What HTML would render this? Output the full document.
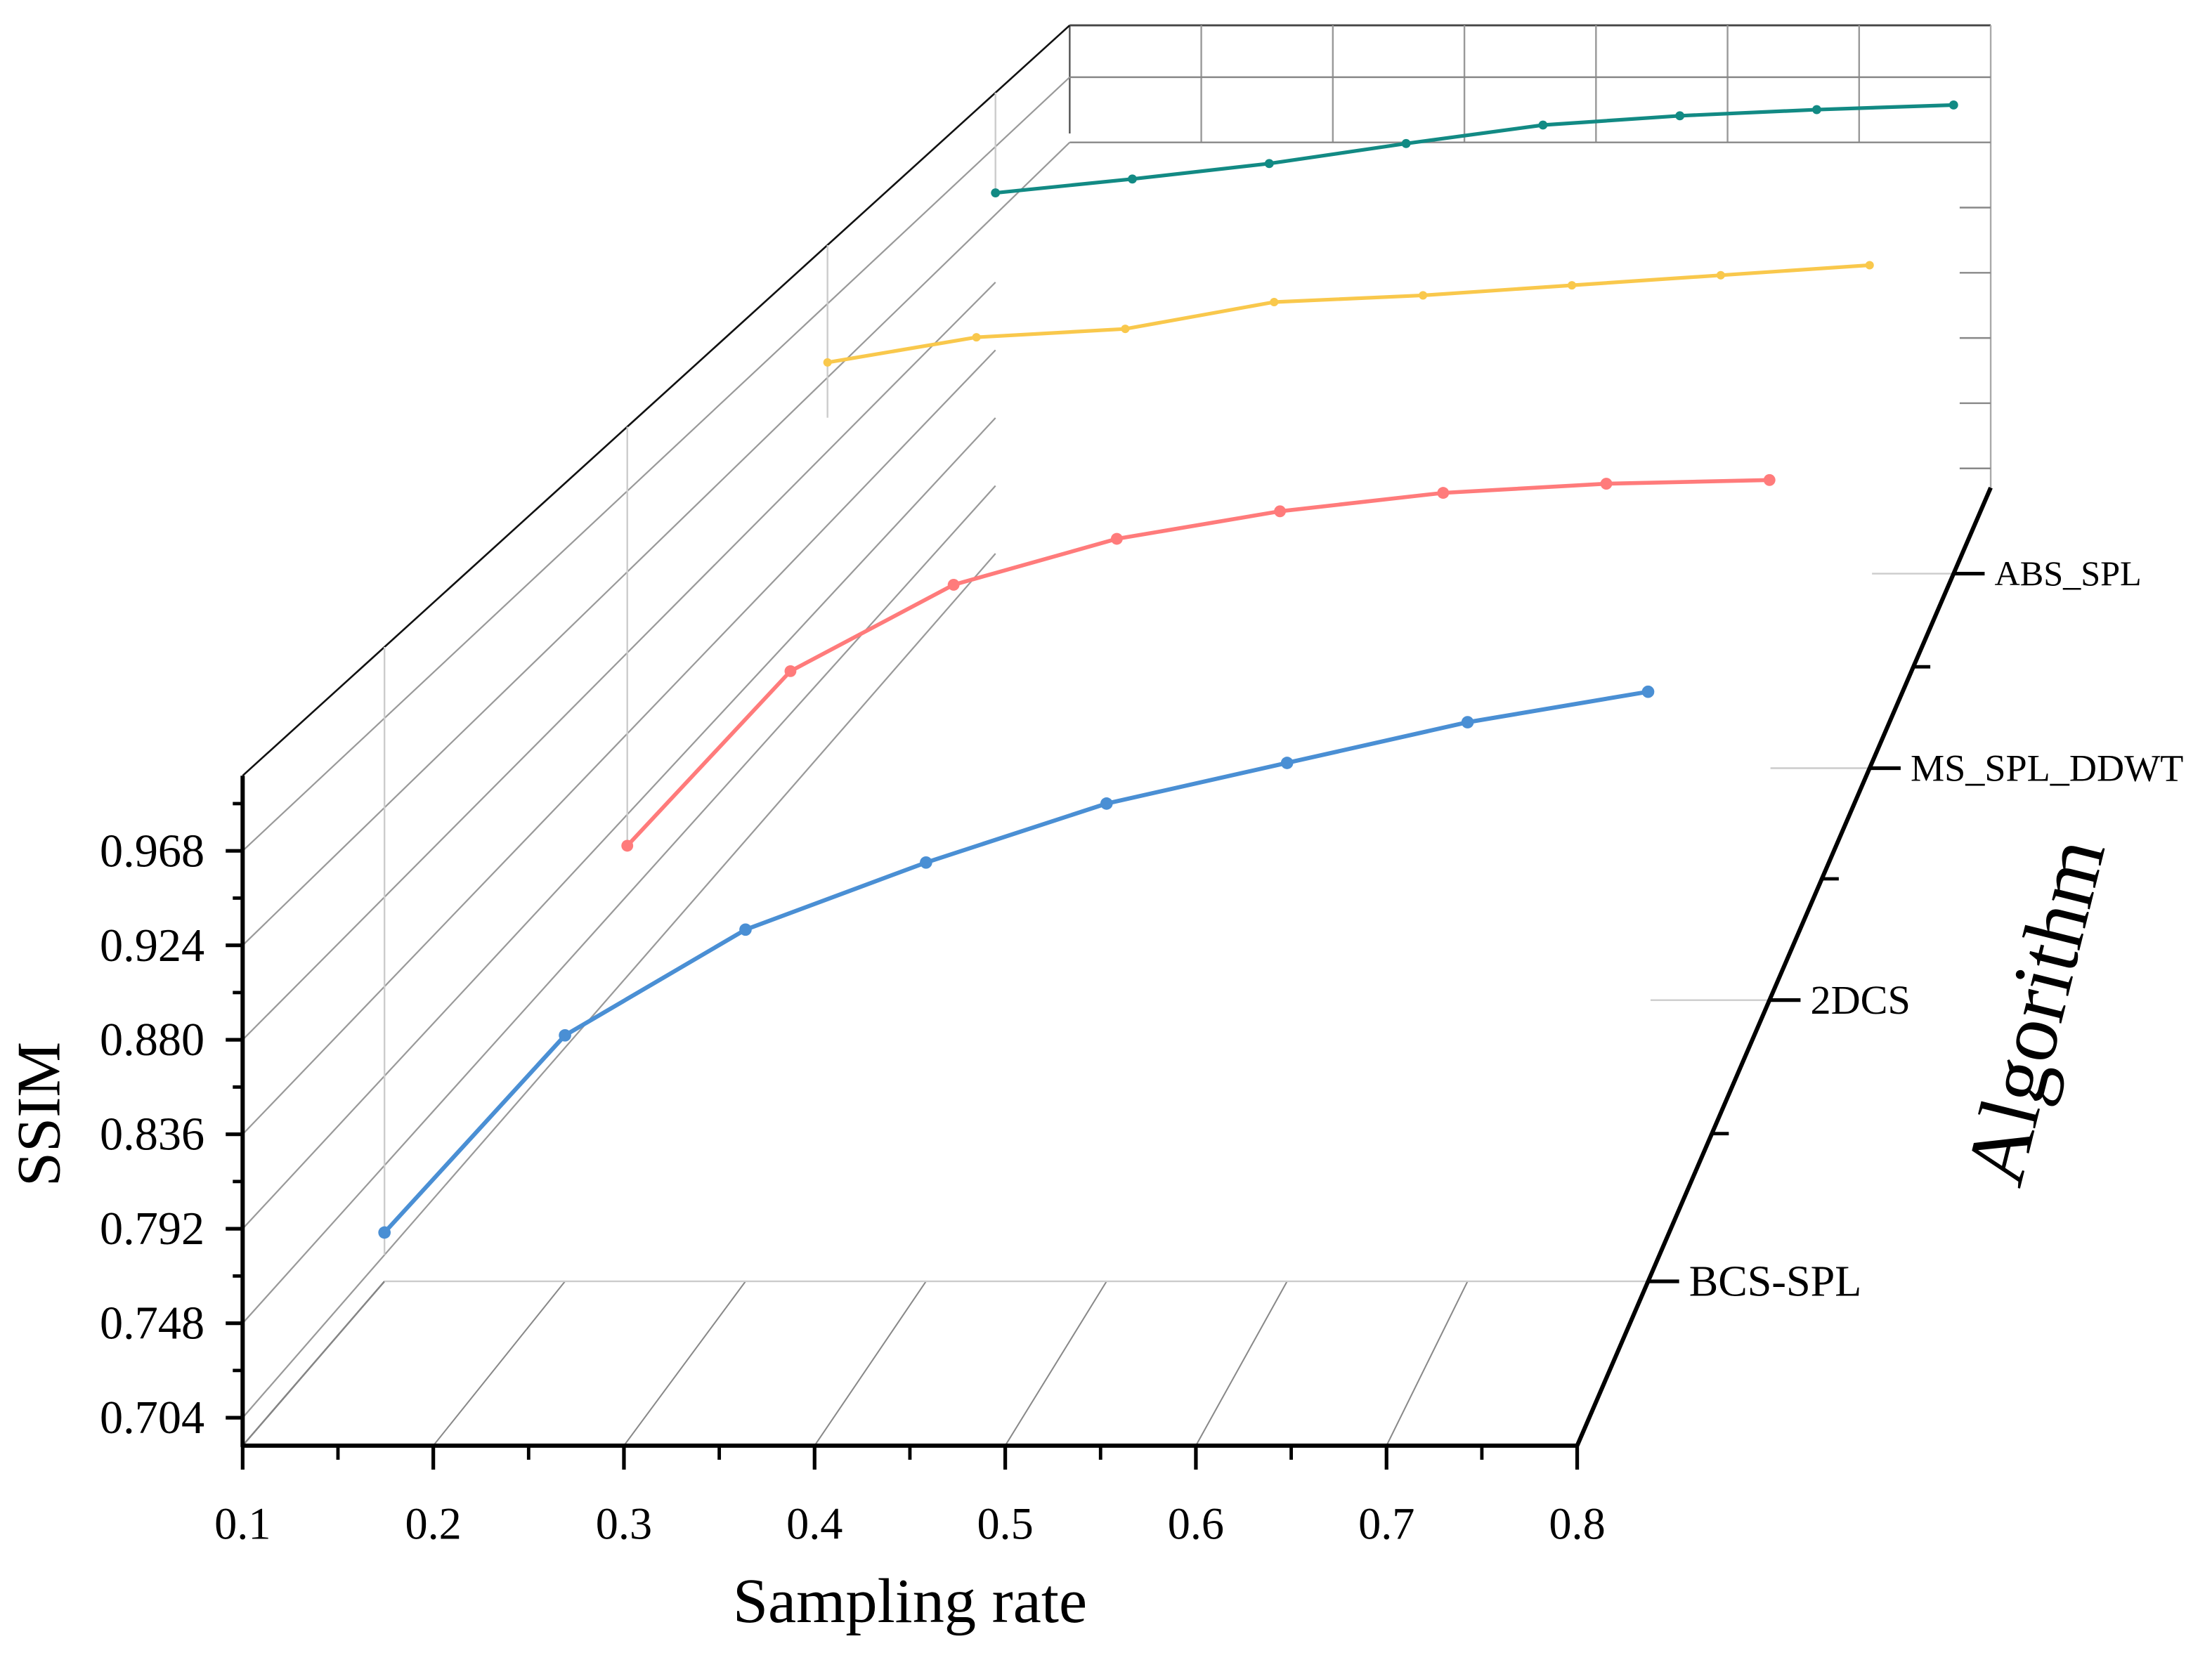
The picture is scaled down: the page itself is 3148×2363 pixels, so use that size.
<!DOCTYPE html>
<html><head><meta charset="utf-8"><style>
html,body{margin:0;padding:0;background:#fff;}
svg{display:block;}
text{font-family:"Liberation Serif",serif;fill:#000;}
</style></head><body>
<svg id="chart" width="3148" height="2363" viewBox="0 0 1568 1177" xmlns="http://www.w3.org/2000/svg">
<g id="grid"></g>
<g id="series"></g>
<g id="axes"></g>
</svg>
<script>
const categories = ["BCS-SPL", "2DCS", "MS_SPL_DDWT", "ABS_SPL"];
const samplingRates = [0.1, 0.2, 0.3, 0.4, 0.5, 0.6, 0.7, 0.8];
const bcsSpl = [0.715, 0.812, 0.864, 0.897, 0.926, 0.946, 0.966, 0.981];
const twoDcs = [0.775, 0.870, 0.917, 0.942, 0.957, 0.967, 0.972, 0.974];
const msSplDdwt = [0.933, 0.948, 0.953, 0.969, 0.973, 0.979, 0.985, 0.991];
const absSpl = [0.938, 0.947, 0.957, 0.970, 0.982, 0.988, 0.992, 0.995];
const yTicks = [0.704, 0.748, 0.792, 0.836, 0.880, 0.924, 0.968];
const yTickLabels = ["0.704", "0.748", "0.792", "0.836", "0.880", "0.924", "0.968"];
const xTicks = [0.1, 0.2, 0.3, 0.4, 0.5, 0.6, 0.7, 0.8];
const xTickLabels = ["0.1", "0.2", "0.3", "0.4", "0.5", "0.6", "0.7", "0.8"];

const NS = "http://www.w3.org/2000/svg";
const VX = 2064, VY = -1167, K = 0.449;
const X0 = 172, X1 = 1118, ZMIN = 0.691, ZMAX = 1.003, YB = 1025, YT = 550;
function sx(x){ return X0 + (x - 0.1) / 0.7 * (X1 - X0); }
function sy(z){ return YB - (z - ZMIN) / (ZMAX - ZMIN) * (YB - YT); }
function scl(d){ return 1 / (1 + K * d); }
function P(x, z, d){ const s = scl(d); return [VX + s * (sx(x) - VX), VY + s * (sy(z) - VY)]; }
function catDepth(i){ return (2 * i + 1) / 8; }

function mk(tag, attrs, parent){
  const e = document.createElementNS(NS, tag);
  for (const k in attrs) e.setAttribute(k, attrs[k]);
  parent.appendChild(e);
  return e;
}
const grid = document.getElementById('grid');
const ser = document.getElementById('series');
const axes = document.getElementById('axes');
function line(p, q, stroke, w, parent, name){
  const l = mk('line', {x1:p[0], y1:p[1], x2:q[0], y2:q[1], stroke:stroke, 'stroke-width':w}, parent);
  
  
  return l;
}

// back wall
line(P(0.1, ZMAX, 1), P(0.8, ZMAX, 1), '#444', 1.4, grid, 'back-wall-top');
line(P(0.8, ZMAX, 1), P(0.8, ZMIN, 1), '#aaa', 1.2, grid, 'back-wall-right');
line(P(0.1, ZMAX, 1), P(0.1, 0.93, 1), '#555', 1.2, grid, 'back-wall-left');
xTicks.forEach(x => {
  if (x > 0.1 && x < 0.8) line(P(x, ZMAX, 1), P(x, 0.924, 1), '#999', 1.2, grid, 'back-wall-x-grid');
});
yTicks.forEach(z => {
  if (z >= 0.92) line(P(0.1, z, 1), P(0.8, z, 1), '#888', 1.2, grid, 'back-wall-z-grid');
  else { const p = P(0.8, z, 1); line([p[0] - 22, p[1]], p, '#888', 1.2, grid, 'back-wall-z-stub'); }
});
// left wall
line(P(0.1, ZMAX, 0), P(0.1, ZMAX, 1), '#111', 1.3, grid, 'left-wall-top-edge');
yTicks.forEach(z => line(P(0.1, z, 0), P(0.1, z, z >= 0.92 ? 1 : 7/8), '#999', 1.1, grid, 'left-wall-z-grid'));
line(P(0.1, ZMIN, 0), P(0.1, ZMIN, catDepth(0)), '#222', 1.1, grid, 'left-wall-bottom-edge');
const wallBottoms = [0.704, 0.775, 0.90, 0.94];
categories.forEach((c, i) => {
  line(P(0.1, ZMAX, catDepth(i)), P(0.1, wallBottoms[i], catDepth(i)), '#ccc', 1.2, grid, 'left-wall-depth-grid');
});
// floor
xTicks.forEach(x => line(P(x, ZMIN, 0), P(x, ZMIN, catDepth(0)), '#888', 1, grid, 'floor-x-grid'));
line(P(0.1, ZMIN, catDepth(0)), P(0.8, ZMIN, catDepth(0)), '#ccc', 1.2, grid, 'floor-depth-grid');
const stubStart = [null, 1170, 1255, 1327];
categories.forEach((c, i) => {
  if (i > 0) { const p = P(0.8, ZMIN, catDepth(i)); line([stubStart[i], p[1]], [p[0] + 2, p[1]], '#ccc', 1.2, grid, 'floor-depth-grid'); }
});

// series
const seriesData = [bcsSpl, twoDcs, msSplDdwt, absSpl];
const colors = ['#4a8fd4', '#ff7b7b', '#f9c84c', '#128a84'];
const widths = [3, 2.8, 2.6, 2.6];
const radii = [4.4, 4.2, 3, 3.2];
const names = ['bcs-spl', '2dcs', 'ms-spl-ddwt', 'abs-spl'];
seriesData.forEach((vals, i) => {
  const d = catDepth(i);
  const pts = vals.map((v, j) => P(samplingRates[j], v, d));
  const pl = mk('polyline', {points: pts.map(p => p.join(',')).join(' '), fill:'none', stroke:colors[i], 'stroke-width':widths[i]}, ser);
  
  
  pts.forEach(p => {
    const c = mk('circle', {cx:p[0], cy:p[1], r:radii[i], fill:colors[i]}, ser);
    
    
  });
});

// axes
line([X0, YT], [X0, YB + 1], '#000', 3, axes, 'y-axis-line');
line([X0 - 1, YB], [X1 + 1, YB], '#000', 3, axes, 'x-axis-line');
line(P(0.8, ZMIN, 0), P(0.8, ZMIN, 1), '#000', 3, axes, 'depth-axis-line');
yTicks.forEach((z, i) => {
  line([X0 - 12, sy(z)], [X0, sy(z)], '#000', 2.6, axes, 'y-tick');
  const m = z + 0.022; if (sy(m) > YT) line([X0 - 7, sy(m)], [X0, sy(m)], '#000', 2.4, axes, 'y-minor-tick');
  const t = mk('text', {x:X0 - 27, y:sy(z) + 11, 'font-size':33, 'text-anchor':'end'}, axes);
  t.textContent = yTickLabels[i];
  
  
});
xTicks.forEach((x, i) => {
  line([sx(x), YB], [sx(x), YB + 17], '#000', 2.6, axes, 'x-tick');
  if (x < 0.8) line([sx(x + 0.05), YB], [sx(x + 0.05), YB + 10], '#000', 2.4, axes, 'x-minor-tick');
  const t = mk('text', {x:sx(x), y:YB + 66, 'font-size':32, 'text-anchor':'middle'}, axes);
  t.textContent = xTickLabels[i];
  
  
});
const catFont = [31, 29, 27, 25];
categories.forEach((c, i) => {
  const p = P(0.8, ZMIN, catDepth(i));
  line(p, [p[0] + 22, p[1]], '#000', 2.6, axes, 'depth-tick');
  if (i < 3) { const q = P(0.8, ZMIN, (i + 1) / 4); line(q, [q[0] + 12, q[1]], '#000', 2.4, axes, 'depth-minor-tick'); }
  const t = mk('text', {x:p[0] + 29, y:p[1] + catFont[i] * 0.33, 'font-size':catFont[i]}, axes);
  t.textContent = c;
  
  
});
</script>
<svg style="position:absolute;left:0;top:0" width="3148" height="2363" viewBox="0 0 1568 1177" xmlns="http://www.w3.org/2000/svg">
<text x="645" y="1150" font-size="45" text-anchor="middle" style="font-family:'Liberation Serif',serif">Sampling rate</text>
<text x="0" y="0" font-size="44" text-anchor="middle" transform="translate(42,790) rotate(-90)" style="font-family:'Liberation Serif',serif">SSIM</text>
<text x="0" y="0" font-size="60" text-anchor="middle" transform="translate(1462,722) rotate(-76)" style="font-family:'Liberation Serif',serif">Algorithm</text>
</svg>
</body></html>
